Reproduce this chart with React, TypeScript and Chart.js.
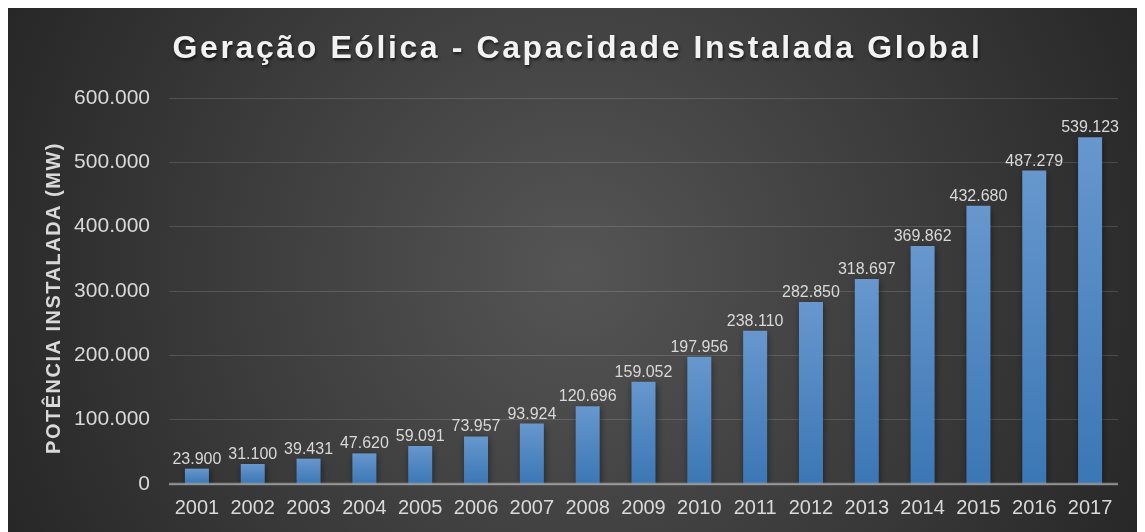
import React, { useEffect, useRef } from "react";
import { Chart, registerables } from "chart.js";

Chart.register(...registerables);

const years = ["2001", "2002", "2003", "2004", "2005", "2006", "2007", "2008", "2009", "2010", "2011", "2012", "2013", "2014", "2015", "2016", "2017"];
const capacityMW = [23900, 31100, 39431, 47620, 59091, 73957, 93924, 120696, 159052, 197956, 238110, 282850, 318697, 369862, 432680, 487279, 539123];
const yMin = 0;
const yMax = 600000;
const yStep = 100000;
const chartTitle = "Geração Eólica - Capacidade Instalada Global";
const yAxisTitle = "POTÊNCIA INSTALADA (MW)";

const FONT = "'Liberation Sans', Arial, sans-serif";
const W = 1137;
const H = 524;

function fmt(n: number): string {
  return String(Math.round(n)).replace(/\B(?=(\d{3})+(?!\d))/g, ".");
}

const decorPlugin = {
  id: "decor",
  beforeDraw(chart: any) {
    const { ctx, width, height } = chart;
    ctx.save();
    const g = ctx.createRadialGradient(width * 0.5, height * 0.5, 0, width * 0.5, height * 0.5, 640);
    g.addColorStop(0, "#555555");
    g.addColorStop(1, "#262626");
    ctx.fillStyle = g;
    ctx.fillRect(0, 0, width, height);
    ctx.restore();
  },
  beforeDatasetsDraw(chart: any) {
    const ctx = chart.ctx;
    ctx.save();
    ctx.shadowColor = "rgba(0,0,0,0.5)";
    ctx.shadowBlur = 7;
    ctx.shadowOffsetX = 1;
    ctx.shadowOffsetY = 2;
  },
  afterDatasetsDraw(chart: any) {
    const ctx = chart.ctx;
    ctx.restore();
    const { chartArea, scales } = chart;
    const y0 = scales.y.getPixelForValue(0);
    ctx.save();
    ctx.strokeStyle = "rgba(200,200,200,0.55)";
    ctx.lineWidth = 2.5;
    ctx.beginPath();
    ctx.moveTo(chartArea.left, y0);
    ctx.lineTo(chartArea.right, y0);
    ctx.stroke();
    ctx.restore();
    const meta = chart.getDatasetMeta(0);
    ctx.save();
    ctx.fillStyle = "#d9d9d9";
    ctx.font = `16px ${FONT}`;
    ctx.textAlign = "center";
    ctx.textBaseline = "alphabetic";
    meta.data.forEach((bar: any, i: number) => {
      ctx.fillText(fmt(capacityMW[i]), bar.x, bar.y - 5);
    });
    ctx.restore();
  },
  afterDraw(chart: any) {
    const { ctx, chartArea } = chart;
    ctx.save();
    ctx.font = `bold 32px ${FONT}`;
    (ctx as any).letterSpacing = "2.6px";
    ctx.textAlign = "center";
    ctx.textBaseline = "alphabetic";
    ctx.shadowColor = "rgba(0,0,0,0.6)";
    ctx.shadowBlur = 3;
    ctx.shadowOffsetX = 1;
    ctx.shadowOffsetY = 2;
    ctx.fillStyle = "#f2f2f2";
    ctx.fillText(chartTitle, chart.width / 2 + 1, 50);
    ctx.restore();
    ctx.save();
    ctx.translate(46, (chartArea.top + chartArea.bottom) / 2 + 7);
    ctx.rotate(-Math.PI / 2);
    ctx.font = `bold 20px ${FONT}`;
    (ctx as any).letterSpacing = "1.5px";
    ctx.textAlign = "center";
    ctx.textBaseline = "middle";
    ctx.fillStyle = "#d9d9d9";
    ctx.fillText(yAxisTitle, 0, 0);
    ctx.restore();
  },
};

export default function App() {
  const ref = useRef<HTMLCanvasElement | null>(null);
  useEffect(() => {
    if (!ref.current) return;
    const chart = new Chart(ref.current, {
      type: "bar",
      data: {
        labels: years,
        datasets: [
          {
            data: capacityMW,
            backgroundColor: (c: any) => {
              const ch = c.chart;
              const { ctx, chartArea, scales } = ch;
              if (!chartArea || c.type !== "data" || !scales.y) return "#4f86c6";
              const top = scales.y.getPixelForValue(c.raw);
              const base = scales.y.getPixelForValue(0);
              const g = ctx.createLinearGradient(0, top, 0, base);
              g.addColorStop(0, "#6797cd");
              g.addColorStop(1, "#3b77b5");
              return g;
            },
            borderWidth: 0,
            barPercentage: 0.43,
            categoryPercentage: 1,
          },
        ],
      },
      options: {
        responsive: false,
        animation: false,
        devicePixelRatio: 1,
        layout: { padding: { top: 90, right: 27, bottom: 0, left: 30 } },
        plugins: {
          legend: { display: false },
          title: { display: false },
          tooltip: { enabled: false },
        },
        scales: {
          x: {
            afterFit: (s: any) => {
              s.height = 48;
            },
            grid: { display: false, drawTicks: false },
            border: { display: false },
            ticks: {
              color: "#d9d9d9",
              font: { family: FONT, size: 20 },
              padding: 12,
              maxRotation: 0,
              autoSkip: false,
            },
          },
          y: {
            min: yMin,
            max: yMax,
            afterFit: (s: any) => {
              s.width = 131;
            },
            grid: { color: "rgba(255,255,255,0.14)", lineWidth: 1, drawTicks: false },
            border: { display: false },
            ticks: {
              stepSize: yStep,
              color: "#d9d9d9",
              font: { family: FONT, size: 21 },
              padding: 19,
              callback: (v: any) => fmt(Number(v)),
            },
          },
        },
      },
      plugins: [decorPlugin],
    } as any);
    return () => chart.destroy();
  }, []);
  return (
    <div style={{ width: W, height: H }}>
      <canvas ref={ref} width={W} height={H} style={{ display: "block", width: W, height: H }} />
    </div>
  );
}
